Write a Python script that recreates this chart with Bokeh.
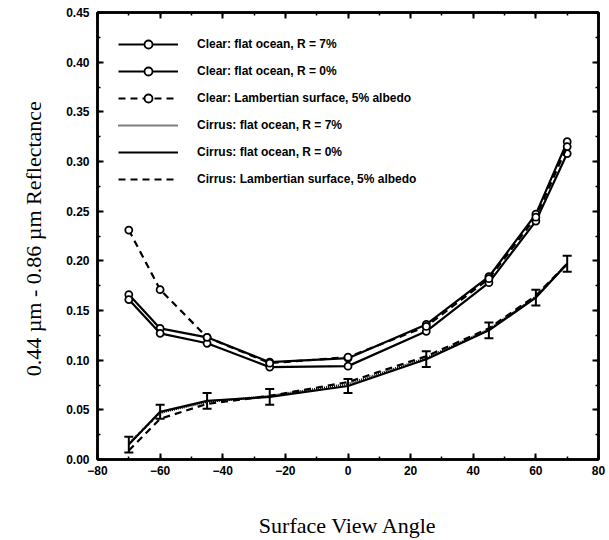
from bokeh.plotting import figure
from bokeh.models import (ColumnDataSource, Whisker, TeeHead, Legend, LegendItem, LinearAxis,
                          NumeralTickFormatter, SingleIntervalTicker, Range1d, CustomJSTickFormatter)
from bokeh.embed import file_html
from bokeh.resources import INLINE

# ---- data ----
angles = [-70, -60, -45, -25, 0, 25, 45, 60, 70]

clear_flat_r7 = [0.166, 0.132, 0.123, 0.098, 0.102, 0.136, 0.184, 0.247, 0.320]
clear_flat_r0 = [0.161, 0.127, 0.117, 0.093, 0.094, 0.129, 0.178, 0.240, 0.308]
clear_lamb = [0.231, 0.171, 0.123, 0.097, 0.103, 0.134, 0.182, 0.244, 0.315]

cirrus_flat_r7 = [0.016, 0.047, 0.058, 0.064, 0.076, 0.102, 0.131, 0.164, 0.197]
cirrus_flat_r0 = [0.015, 0.048, 0.059, 0.063, 0.074, 0.101, 0.130, 0.163, 0.197]
cirrus_lamb = [0.009, 0.041, 0.056, 0.064, 0.078, 0.104, 0.132, 0.165, 0.197]
cirrus_err = [0.008, 0.007, 0.008, 0.008, 0.007, 0.008, 0.008, 0.008, 0.008]

legend_labels = [
    "Clear: flat ocean, R = 7%",
    "Clear: flat ocean, R = 0%",
    "Clear: Lambertian surface, 5% albedo",
    "Cirrus: flat ocean, R = 7%",
    "Cirrus: flat ocean, R = 0%",
    "Cirrus: Lambertian surface, 5% albedo",
]

x_label = "Surface View Angle"
y_label = "0.44 \u00b5m - 0.86 \u00b5m  Reflectance"

# ---- figure ----
p = figure(width=609, height=540, output_backend="svg", toolbar_location=None,
           x_range=Range1d(-80, 80), y_range=Range1d(0, 0.45),
           min_border_left=97, min_border_right=11, min_border_top=12, min_border_bottom=80)
p.xgrid.visible = False
p.ygrid.visible = False
p.outline_line_color = "black"
p.outline_line_width = 2.5
p.background_fill_color = "white"
p.border_fill_color = "white"

LW = 2.2
r_c7 = p.line(angles, clear_flat_r7, line_color="black", line_width=LW)
s_c7 = p.scatter(angles, clear_flat_r7, size=7, marker="circle", fill_color="white",
                 line_color="black", line_width=1.8)
r_c0 = p.line(angles, clear_flat_r0, line_color="black", line_width=LW)
s_c0 = p.scatter(angles, clear_flat_r0, size=7, marker="circle", fill_color="white",
                 line_color="black", line_width=1.8)
r_cl = p.line(angles, clear_lamb, line_color="black", line_width=LW, line_dash="7 5")
s_cl = p.scatter(angles, clear_lamb, size=7, marker="circle", fill_color="white",
                 line_color="black", line_width=1.8)

r_i7 = p.line(angles, cirrus_flat_r7, line_color="black", line_width=LW, line_dash="1 1")
r_i0 = p.line(angles, cirrus_flat_r0, line_color="black", line_width=LW)
r_il = p.line(angles, cirrus_lamb, line_color="black", line_width=LW, line_dash="7 5")

src = ColumnDataSource(dict(
    x=angles,
    upper=[v + e for v, e in zip(cirrus_flat_r0, cirrus_err)],
    lower=[v - e for v, e in zip(cirrus_flat_r0, cirrus_err)],
))
w = Whisker(base="x", upper="upper", lower="lower", source=src, dimension="height",
            line_color="black", line_width=2,
            upper_head=TeeHead(size=9, line_width=2, line_color="black"),
            lower_head=TeeHead(size=9, line_width=2, line_color="black"))
p.add_layout(w)

# ---- axes ----
tick_font = "Liberation Sans"
for ax in (p.xaxis[0], p.yaxis[0]):
    ax.axis_line_width = 2.5
    ax.major_tick_in = 6
    ax.major_tick_out = 0
    ax.minor_tick_in = 3
    ax.minor_tick_out = 0
    ax.major_tick_line_width = 2
    ax.minor_tick_line_width = 1.5
    ax.major_label_text_font = tick_font
    ax.major_label_text_font_style = "bold"
    ax.major_label_text_font_size = "12px"
    ax.major_label_text_color = "black"
    ax.axis_label_text_font = "Liberation Serif"
    ax.axis_label_text_font_style = "normal"
    ax.axis_label_text_font_size = "22px"
    ax.axis_label_text_color = "black"

p.xaxis[0].ticker = SingleIntervalTicker(interval=20, num_minor_ticks=2)
p.yaxis[0].ticker = SingleIntervalTicker(interval=0.05, num_minor_ticks=2)
p.yaxis[0].formatter = NumeralTickFormatter(format="0.00")
p.xaxis[0].axis_label = x_label
p.yaxis[0].axis_label = y_label
p.xaxis[0].major_label_standoff = 6
p.xaxis[0].axis_label_standoff = 35
p.yaxis[0].major_label_standoff = 8
p.yaxis[0].axis_label_standoff = 17

blank = CustomJSTickFormatter(code="return ''")
top = LinearAxis(ticker=SingleIntervalTicker(interval=20, num_minor_ticks=2), formatter=blank)
right = LinearAxis(ticker=SingleIntervalTicker(interval=0.05, num_minor_ticks=2), formatter=blank)
for ax in (top, right):
    ax.axis_line_width = 2.5
    ax.major_tick_in = 6
    ax.major_tick_out = 0
    ax.minor_tick_in = 3
    ax.minor_tick_out = 0
    ax.major_tick_line_width = 2
    ax.minor_tick_line_width = 1.5
    ax.major_label_standoff = 0
p.add_layout(top, "above")
p.add_layout(right, "right")

# ---- legend ----
items = [
    LegendItem(label=legend_labels[0], renderers=[r_c7, s_c7]),
    LegendItem(label=legend_labels[1], renderers=[r_c0, s_c0]),
    LegendItem(label=legend_labels[2], renderers=[r_cl, s_cl]),
    LegendItem(label=legend_labels[3], renderers=[r_i7]),
    LegendItem(label=legend_labels[4], renderers=[r_i0]),
    LegendItem(label=legend_labels[5], renderers=[r_il]),
]
legend = Legend(items=items, location=(21, 270), glyph_width=60, glyph_height=20,
                label_height=20, spacing=7, padding=0, margin=0, label_standoff=19,
                border_line_color=None, background_fill_alpha=0,
                label_text_font=tick_font, label_text_font_style="bold",
                label_text_font_size="12px", label_text_color="black")
p.add_layout(legend, "center")

open("out.html", "w").write(file_html(p, INLINE))
